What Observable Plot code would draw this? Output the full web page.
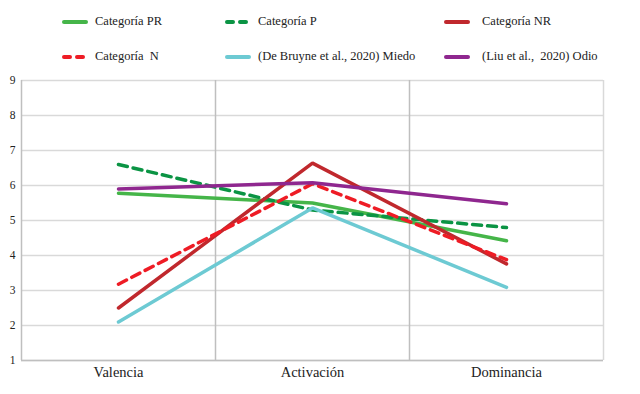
<!DOCTYPE html>
<html><head><meta charset="utf-8">
<script src="https://cdn.jsdelivr.net/npm/d3@7"></script>
<script src="https://cdn.jsdelivr.net/npm/@observablehq/plot@0.6"></script>
<style>
body{margin:0;background:#fff;font-family:"Liberation Serif","DejaVu Serif",serif;}
#legend{position:relative;width:640px;height:75px;}
.sw{position:absolute;}
.lt{position:absolute;font-size:12.5px;color:#222;white-space:pre;line-height:14px;}
</style></head>
<body>
<div id="legend"></div>
<div id="chart"></div>
<script>
const dims = ["Valencia", "Activación", "Dominancia"];
const seriesNames = ["Categoría PR", "Categoría P", "Categoría NR", "Categoría  N", "(De Bruyne et al., 2020) Miedo", "(Liu et al.,  2020) Odio"];
const colors = ["#45b549", "#0b9444", "#c0282d", "#ee1c25", "#6dcad3", "#8f278f"];
const dashed = [false, true, false, true, false, false];
const valsPR = [5.78, 5.5, 4.42];
const valsP = [6.6, 5.3, 4.8];
const valsNR = [2.5, 6.64, 3.76];
const valsN = [3.18, 6.05, 3.88];
const valsMiedo = [2.1, 5.36, 3.09];
const valsOdio = [5.9, 6.08, 5.48];
const yTicks = [1, 2, 3, 4, 5, 6, 7, 8, 9];

const allVals = [valsPR, valsP, valsNR, valsN, valsMiedo, valsOdio];

// legend layout
const swX = [62, 225, 444, 62, 225, 444];
const txX = [95, 258, 482, 95, 258, 482];
const rowY = [22, 22, 22, 57, 57, 57];
const lg = document.getElementById("legend");
seriesNames.forEach((n, i) => {
  const s = document.createElement("div");
  s.className = "sw";
  s.style.left = swX[i] + "px";
  s.style.top = (rowY[i] - 4) + "px";
  s.innerHTML = `<svg width="26" height="8" style="display:block"><line x1="2" x2="24" y1="4" y2="4" stroke="${colors[i]}" stroke-width="4" stroke-linecap="round" ${dashed[i] ? 'stroke-dasharray="6,7"' : ''}/></svg>`;
  lg.appendChild(s);
  const t = document.createElement("div");
  t.className = "lt";
  t.style.left = txX[i] + "px";
  t.style.top = (rowY[i] - 8) + "px";
  t.textContent = n;
  lg.appendChild(t);
});

const data = [];
allVals.forEach((vals, s) => vals.forEach((v, j) => data.push({series: seriesNames[s], dim: dims[j], value: v})));

const W = 640, ml = 21, mr = 37;
const half = (W - ml - mr) / dims.length / 2;

const marks = [
  Plot.ruleY(yTicks, {stroke: "#d9d9d9", strokeWidth: 1.5}),
  Plot.ruleX(dims.slice(1), {dx: -half, stroke: "#bfbfbf", strokeWidth: 1.5}),
  Plot.ruleX([dims[dims.length - 1]], {dx: half, stroke: "#d9d9d9", strokeWidth: 1.5}),
  Plot.ruleX([dims[0]], {dx: -half, stroke: "#bfbfbf", strokeWidth: 1.5}),
  Plot.ruleY([1], {stroke: "#bfbfbf", strokeWidth: 1.5}),
  Plot.axisY({ticks: yTicks, tickSize: 0, tickPadding: 6, fontSize: 11.5, tickFormat: d => d, label: null}),
  Plot.axisX({tickSize: 0, tickPadding: 6, fontSize: 14.5, label: null})
];
seriesNames.forEach((n, i) => {
  marks.push(Plot.line(data.filter(d => d.series === n), {
    x: "dim", y: "value", stroke: colors[i], strokeWidth: 3.5,
    strokeDasharray: dashed[i] ? "9,6" : null, strokeLinejoin: "miter"
  }));
});

const chart = Plot.plot({
  width: W, height: 319,
  marginLeft: ml, marginRight: mr, marginTop: 5, marginBottom: 34,
  style: {fontFamily: "'Liberation Serif', 'DejaVu Serif', serif", color: "#222", background: "#fff"},
  x: {type: "point", domain: dims, padding: 0.5},
  y: {domain: [1, 9]},
  marks
});
document.getElementById("chart").appendChild(chart);
</script>
</body></html>
